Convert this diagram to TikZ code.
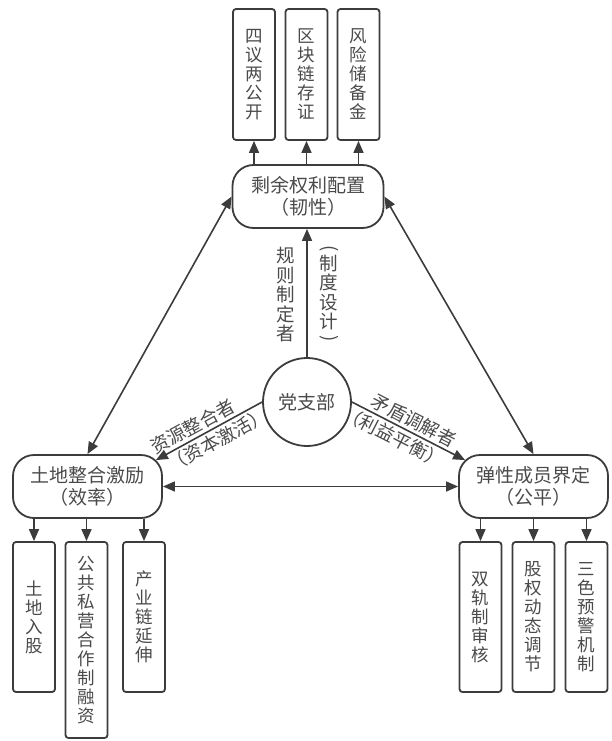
\documentclass[tikz,border=0pt]{standalone}
\usepackage{fontspec}
\usepackage{graphicx}
\setmainfont{Noto Sans CJK SC}
\usetikzlibrary{arrows.meta,calc}
\definecolor{ln}{HTML}{3C3C3C}
\definecolor{tx}{HTML}{4A4A4A}
\newcommand{\vparL}{\rotatebox[origin=c]{-90}{(}}
\newcommand{\vparR}{\rotatebox[origin=c]{-90}{)}}
\begin{document}
\begin{tikzpicture}[x=1pt,y=-1pt,
  mainbox/.style={draw=ln,line width=1.8pt,rounded corners=21pt,minimum width=151pt,minimum height=63pt,text=tx,align=center,font=\fontsize{19}{22}\selectfont,inner sep=0pt},
  leafbox/.style={draw=ln,line width=1.8pt,rounded corners=3pt,minimum width=42pt,text=tx,align=center,font=\fontsize{17.5}{19}\selectfont,inner sep=0pt},
  hub/.style={circle,draw=ln,line width=1.8pt,minimum size=88pt,text=tx,font=\fontsize{19}{22}\selectfont,inner sep=0pt},
  tip/.tip={Triangle[length=12pt,width=10pt]},
  arr/.style={draw=ln,line width=1.6pt,-tip},
  darr/.style={draw=ln,line width=1.6pt,tip-tip},
  lab/.style={text=tx,font=\fontsize{18.5}{19.5}\selectfont,align=center,inner sep=1pt},
  slab/.style={lab,sloped,inner sep=2.5pt}
]
\useasboundingbox (0,0) rectangle (612,741);

% main nodes
\node[mainbox] (top) at (308,196.5) {剩余权利配置\\（韧性）};
\node[mainbox,minimum width=149pt] (lnode) at (87.5,486.5) {土地整合激励\\（效率）};
\node[mainbox,minimum width=149pt] (rnode) at (533.5,486.5) {弹性成员界定\\（公平）};
\node[hub] (hub) at (307,402) {党支部};

% top leaves
\node[leafbox,minimum height=131pt] (t1) at (254,74.5) {四\\议\\两\\公\\开};
\node[leafbox,minimum height=131pt] (t2) at (306.5,74.5) {区\\块\\链\\存\\证};
\node[leafbox,minimum height=131pt] (t3) at (358.5,74.5) {风\\险\\储\\备\\金};

% left leaves
\node[leafbox,minimum height=150pt] (a1) at (34,617) {土\\地\\入\\股};
\node[leafbox,minimum height=196pt] (a2) at (86.5,640) {公\\共\\私\\营\\合\\作\\制\\融\\资};
\node[leafbox,minimum height=150pt] (a3) at (144,617) {产\\业\\链\\延\\伸};

% right leaves
\node[leafbox,minimum height=150pt] (b1) at (480.5,617) {双\\轨\\制\\审\\核};
\node[leafbox,minimum height=150pt] (b2) at (533.5,617) {股\\权\\动\\态\\调\\节};
\node[leafbox,minimum height=150pt] (b3) at (586.5,617) {三\\色\\预\\警\\机\\制};

% leaf arrows
\foreach \b in {t1,t2,t3} \draw[arr] (\b.south |- top.north) -- (\b.south);
\foreach \b in {a1,a2,a3} \draw[arr] (\b.north |- lnode.south) -- (\b.north);
\foreach \b in {b1,b2,b3} \draw[arr] (\b.north |- rnode.south) -- (\b.north);

% triangle
\draw[darr] (top.west) -- (lnode.north);
\draw[darr] (top.east) -- (rnode.north);
\draw[darr] (lnode.east) -- (rnode.west);

% hub arrows
\draw[arr] (hub.north) -- (hub.north |- top.south);
\node[lab] (l1) at (286,295) {规\\则\\制\\定\\者};
\node[lab] (l2) at (329,295) {\vparL\\[-4pt]制\\度\\设\\计\\[-4pt]\vparR};

\draw[arr] (hub.west) -- node[slab,above,pos=0.6] (l3) {资源整合者}
  node[slab,below,pos=0.47] (l4) {（资本激活）} ($(lnode.north east)+(-7,6)$);
\draw[arr] (hub.east) -- node[slab,above,pos=0.5] (l5) {矛盾调解者}
  node[slab,below,pos=0.42] (l6) {（利益平衡）} ($(rnode.north west)+(7,6)$);
\end{tikzpicture}
\end{document}
